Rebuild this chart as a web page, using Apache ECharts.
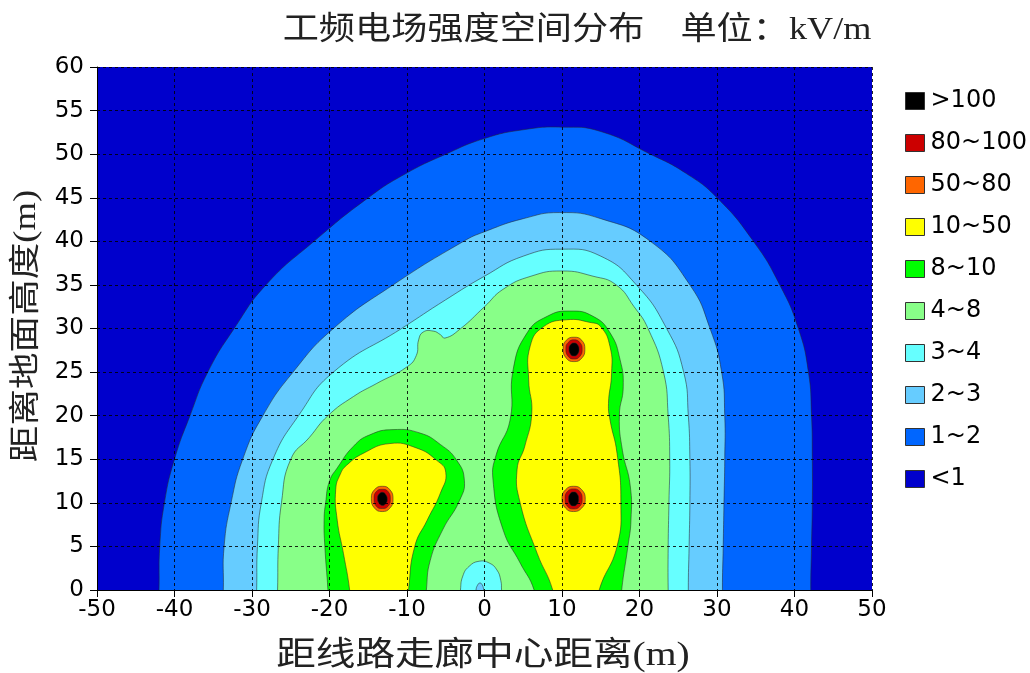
<!DOCTYPE html>
<html>
<head>
<meta charset="utf-8">
<script src="https://cdn.jsdelivr.net/npm/echarts@6/dist/echarts.min.js"></script>
<style>
  html, body { margin: 0; padding: 0; background: #ffffff; }
  #chart { width: 1030px; height: 673px; }
</style>
</head>
<body>
<div id="chart"></div>
<script>
// ---- texts ----
const chartTitle = '工频电场强度空间分布    单位：kV/m';
const xAxisTitle = '距线路走廊中心距离(m)';
const yAxisTitle = '距离地面高度(m)';

// ---- axes (m) ----
const xRange = [-50, 50];
const yRange = [0, 60];
const xStep = 10;
const yStep = 5;

// ---- field levels (kV/m), highest first ----
const levelNames = ['>100', '80~100', '50~80', '10~50', '8~10', '4~8', '3~4', '2~3', '1~2', '<1'];
const levelColors = ['#000000', '#CC0000', '#FF6600', '#FFFF00', '#00FF00', '#88FF88', '#66FFFF', '#66CCFF', '#0066FF', '#0000CC'];

// ---- iso-field boundaries, [distance from corridor centre, height] in m ----
const fieldDomain = [[-50, 0], [50, 0], [50, 60], [-50, 60]];

const iso1 = [[-42.1, -2], [-42.0, 0], [-41.9, 5], [-41.3, 10], [-40.0, 15], [-38.0, 20], [-35.7, 25], [-32.3, 30],
  [-28.2, 35], [-22.0, 40], [-15.0, 45], [-10.3, 47.7], [-5.0, 50], [0, 51.8], [5, 52.8], [10, 53.1], [15, 52.6],
  [21.4, 50], [26, 47.8], [30, 45], [34.7, 40], [38.1, 35], [40.5, 30], [41.8, 25], [42.2, 20], [42.3, 15],
  [42.3, 10], [42.2, 5], [42.1, 0], [42.2, -2]];

const iso2 = [[-33.8, -2], [-33.7, 0], [-33.6, 5], [-32.7, 10], [-31.2, 15], [-28.6, 20], [-24.7, 25], [-19.5, 30],
  [-11.8, 35], [-2.7, 40], [0, 41.1], [5, 42.6], [9.7, 43.3], [15, 42.6], [21.4, 40], [26.5, 35], [29.1, 30],
  [30.6, 25], [31, 20], [31, 15], [30.9, 10], [30.8, 5], [30.7, 0], [30.8, -2]];

const iso3 = [[-29.5, -2], [-29.4, 0], [-29.3, 5], [-28.8, 10], [-27.3, 15], [-24, 20], [-19.5, 25], [-10.7, 30],
  [-5, 33.3], [0, 36], [5, 38.3], [10, 39.1], [15, 38.3], [19.6, 35], [23.5, 30], [25.7, 25], [26.3, 20],
  [26.5, 15], [26.5, 10], [26.4, 5], [26.3, 0], [26.4, -2]];

const iso4 = [[-26.8, -2], [-26.7, 0], [-26.6, 5], [-26.2, 10], [-25, 15], [-22.6, 17.5], [-20.2, 20], [-16.9, 22.2],
  [-13.9, 23.7], [-10, 25.6], [-8.8, 26.9], [-8.5, 28.7], [-7.9, 29.6], [-6.6, 29.7], [-5.7, 29.3], [-5.1, 28.9],
  [-3.2, 29.9], [0, 32.5], [2.4, 34.5], [6, 36], [10, 36.6], [14, 36], [17, 35], [19.3, 32.5], [21.1, 30],
  [23.1, 25], [23.7, 20], [23.9, 15], [23.8, 10], [23.7, 5], [23.7, 0], [23.8, -2]];

// low-field pocket on the ground between the two circuits
const pocket3 = [[-3.2, -2], [-3.1, 0], [-2.8, 1.6], [-2, 2.7], [-0.7, 3.3], [0.6, 3.1], [1.6, 2.3], [2.1, 1.1],
  [2.2, 0], [2.3, -2]];
const pocket2 = [[-1.2, -1], [-1.1, 0], [-0.9, 0.55], [-0.6, 0.8], [-0.3, 0.6], [-0.1, 0], [0, -1]];

const iso8Left = [[-20.1, -2], [-20.2, 0], [-20.6, 5], [-20.7, 8], [-20.5, 10], [-20, 12.5], [-19, 14], [-16.9, 16.5],
  [-14.8, 17.8], [-11.8, 18.4], [-8.3, 18], [-5.7, 16.7], [-3.6, 14.9], [-2.6, 12.6], [-3.2, 10.3], [-5.4, 6.9],
  [-7, 3.4], [-7.5, 0], [-7.6, -2]];
const iso8Right = [[6.5, -2], [6.4, 0], [4.6, 3.1], [2.4, 6.9], [1.1, 12.6], [1.5, 15.5], [3.3, 19.5], [3.7, 25.3],
  [5.5, 29.5], [8.1, 31.4], [11, 32], [14, 31.4], [16.2, 29.5], [17.5, 26.4], [17.9, 23.3], [17.4, 20],
  [17.8, 16], [18.8, 12], [18.9, 8], [18.5, 5], [17.7, 0], [17.6, -2]];
const iso8Spot = [[11.55, 30.75], [11.8, 30.55], [11.55, 30.35], [11.3, 30.55]];

const iso10Left = [[-17.3, -2], [-17.4, 0], [-18.2, 4.2], [-19, 8], [-19.2, 11.5], [-18.6, 13.3], [-17.8, 14.3],
  [-15.6, 15.7], [-12.2, 16.8], [-8.8, 16.3], [-6.2, 14.9], [-5, 13.5], [-5.7, 11.1], [-7.4, 8], [-9, 5],
  [-9.8, 0], [-9.9, -2]];
const iso10Right = [[8.9, -2], [8.8, 0], [6.8, 4.2], [4.6, 10], [4.2, 13.8], [5.2, 16.5], [6.1, 20.3], [5.7, 24.1],
  [5.9, 28], [7.6, 30.2], [10.6, 31], [13.6, 30.7], [15, 30.2], [16.2, 27.9], [16.4, 24.9], [16, 21.4],
  [16.2, 19.5], [17.1, 15.7], [17.6, 10], [17.1, 5], [14.8, 0], [14.7, -2]];

// conductor surroundings: left phase, right lower phase, right upper phase
const iso50Left = [[-14.6, 10.5], [-14.2, 11.5], [-13.2, 11.9], [-12.2, 11.5], [-11.8, 10.4], [-12.2, 9.4], [-13.2, 9.0], [-14.2, 9.4]];
const iso80Left = [[-14.25, 10.5], [-13.95, 11.3], [-13.2, 11.55], [-12.45, 11.3], [-12.15, 10.4], [-12.45, 9.6], [-13.2, 9.35], [-13.95, 9.6]];
const iso100Left = [[-13.8, 10.5], [-13.6, 11.0], [-13.15, 11.2], [-12.75, 10.95], [-12.55, 10.4], [-12.75, 9.9], [-13.2, 9.7], [-13.6, 9.95]];

const iso50Low = [[10.0, 10.5], [10.45, 11.5], [11.5, 11.9], [12.55, 11.5], [13.0, 10.4], [12.55, 9.4], [11.5, 9.0], [10.45, 9.4]];
const iso80Low = [[10.4, 10.5], [10.7, 11.3], [11.5, 11.6], [12.3, 11.3], [12.6, 10.4], [12.3, 9.6], [11.5, 9.3], [10.7, 9.6]];
const iso100Low = [[10.85, 10.5], [11.05, 11.05], [11.5, 11.25], [11.95, 11.05], [12.15, 10.4], [11.95, 9.85], [11.5, 9.65], [11.05, 9.85]];

const iso50Up = [[10.15, 27.7], [10.55, 28.65], [11.55, 29.0], [12.55, 28.65], [12.95, 27.6], [12.55, 26.6], [11.55, 26.2], [10.55, 26.6]];
const iso80Up = [[10.5, 27.7], [10.8, 28.4], [11.55, 28.7], [12.3, 28.4], [12.6, 27.6], [12.3, 26.8], [11.55, 26.5], [10.8, 26.8]];
const iso100Up = [[10.9, 27.7], [11.1, 28.15], [11.55, 28.35], [12.0, 28.15], [12.2, 27.6], [12.0, 27.05], [11.55, 26.85], [11.1, 27.05]];

// ---- which boundaries fill which band; `layer` is the painting order ----
const bands = [
  { level: '<1',     layer: 0,  shapes: [fieldDomain], outline: false },
  { level: '1~2',    layer: 1,  shapes: [iso1] },
  { level: '2~3',    layer: 2,  shapes: [iso2] },
  { level: '3~4',    layer: 3,  shapes: [iso3] },
  { level: '4~8',    layer: 4,  shapes: [iso4] },
  { level: '3~4',    layer: 5,  shapes: [pocket3] },
  { level: '2~3',    layer: 6,  shapes: [pocket2] },
  { level: '8~10',   layer: 7,  shapes: [iso8Left, iso8Right, iso8Spot] },
  { level: '10~50',  layer: 8,  shapes: [iso10Left, iso10Right] },
  { level: '50~80',  layer: 9,  shapes: [iso50Left, iso50Low, iso50Up] },
  { level: '80~100', layer: 10, shapes: [iso80Left, iso80Low, iso80Up] },
  { level: '>100',   layer: 11, shapes: [iso100Left, iso100Low, iso100Up] }
];

function colorOf(level) {
  return levelColors[levelNames.indexOf(level)];
}

function bandSeries(band) {
  const fill = colorOf(band.level);
  const outlined = band.outline !== false;
  return {
    type: 'custom',
    name: band.level,
    coordinateSystem: 'cartesian2d',
    clip: true,
    silent: true,
    itemStyle: { color: fill },
    data: band.shapes.map(s => s[Math.floor(s.length / 2)]),
    renderItem: function (params, api) {
      const pts = band.shapes[params.dataIndex].map(p => api.coord(p));
      return {
        type: 'polygon',
        z2: band.layer,
        shape: { points: pts, smooth: outlined ? 0.5 : 0 },
        style: {
          fill: fill,
          stroke: outlined ? 'rgba(40,40,40,0.6)' : null,
          lineWidth: 0.9
        }
      };
    }
  };
}

const chart = echarts.init(document.getElementById('chart'), null, { renderer: 'canvas' });

const axisCommon = {
  type: 'value',
  z: 10,
  axisLine: { show: true, onZero: false, lineStyle: { color: '#000', width: 1 } },
  axisTick: { show: true, inside: false, length: 7, lineStyle: { color: '#000', width: 1 } },
  splitLine: { show: true, lineStyle: { color: '#000', width: 1, type: [3, 3], opacity: 0.85 } },
  axisLabel: { color: '#000', fontSize: 23, fontFamily: 'DejaVu Sans' }
};

chart.setOption({
  animation: false,
  backgroundColor: '#ffffff',
  grid: { left: 97, right: 158, top: 67, bottom: 83, containLabel: false },
  xAxis: Object.assign({}, axisCommon, {
    min: xRange[0], max: xRange[1], interval: xStep,
    axisLabel: Object.assign({}, axisCommon.axisLabel, { margin: 9 })
  }),
  yAxis: Object.assign({}, axisCommon, {
    min: yRange[0], max: yRange[1], interval: yStep,
    axisLabel: Object.assign({}, axisCommon.axisLabel, { margin: 13 })
  }),
  legend: {
    orient: 'vertical',
    left: 900,
    top: 84,
    icon: 'rect',
    itemWidth: 19,
    itemHeight: 17,
    itemGap: 18,
    selectedMode: false,
    data: levelNames,
    itemStyle: { borderColor: '#333', borderWidth: 1 },
    textStyle: { fontSize: 24, lineHeight: 24, fontFamily: 'DejaVu Sans', color: '#000', padding: [0, 0, 0, 1] }
  },
  graphic: [
    {
      type: 'text', x: 577, y: 31, scaleX: 1.13, silent: true,
      style: {
        text: chartTitle, fontSize: 32, fontFamily: '"Liberation Serif", "Noto Sans CJK SC"',
        fill: '#222', align: 'center', verticalAlign: 'middle'
      }
    },
    {
      type: 'text', x: 483, y: 656, scaleX: 1.2, silent: true,
      style: {
        text: xAxisTitle, fontSize: 33, fontFamily: '"Liberation Serif", "Noto Sans CJK SC"',
        fill: '#222', align: 'center', verticalAlign: 'middle'
      }
    },
    {
      type: 'text', x: 27, y: 326, rotation: Math.PI / 2, scaleX: 1.18, silent: true,
      style: {
        text: yAxisTitle, fontSize: 31, fontFamily: '"Liberation Serif", "Noto Sans CJK SC"',
        fill: '#222', align: 'center', verticalAlign: 'middle'
      }
    }
  ],
  series: bands.map(bandSeries)
});
</script>
</body>
</html>
